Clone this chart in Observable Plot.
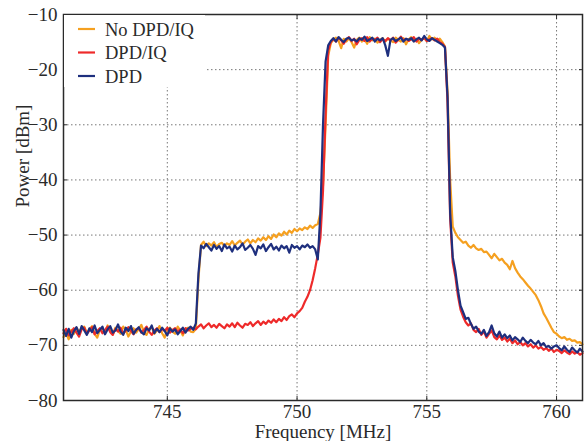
<!DOCTYPE html>
<html>
<head>
<meta charset="utf-8">
<script src="https://cdn.jsdelivr.net/npm/d3@7"></script>
<script src="https://cdn.jsdelivr.net/npm/@observablehq/plot@0.6"></script>
<style>
  html, body { margin: 0; padding: 0; background: #fff; }
  #chart { position: relative; width: 586px; height: 441px; }
</style>
</head>
<body>
<div id="chart"></div>
<script>
// Frequency sweep grid (MHz), 0.1 MHz steps from 741.0 to 761.0
const freqStart = 741.0;
const freqStep = 0.1;

const xTicks = [745, 750, 755, 760];
const yTicks = [-80, -70, -60, -50, -40, -30, -20, -10];

const seriesNames = ["No DPD/IQ", "DPD/IQ", "DPD"];
const seriesColors = ["#f5a020", "#ee2a2a", "#1e2f7e"];

// No DPD/IQ (orange), dBm
const noDpdIq = [
  -68.5, -67.8, -68.9, -67.2, -67.9, -66.8, -67.5, -67.0, -66.6, -67.8,
  -67.1, -66.5, -67.9, -68.6, -67.2, -66.9, -67.6, -66.4, -67.3, -68.0,
  -66.8, -67.4, -67.9, -66.6, -67.2, -68.4, -67.5, -66.9, -67.7, -67.0,
  -66.3, -67.6, -68.1, -67.0, -66.7, -67.9, -67.3, -66.5, -67.8, -68.6,
  -67.1, -66.8, -67.5, -67.9, -66.6, -67.3, -68.2, -67.0, -66.8, -67.5,
  -67.6, -67.0,
  -58.0,
  -51.8, -51.2, -52.0, -51.5, -51.9, -51.3, -52.2, -51.6, -51.4, -52.0,
  -51.5, -51.8, -51.1, -51.9, -51.4, -51.0, -51.7, -51.2, -50.8, -51.5,
  -50.9, -51.3, -50.6, -51.0, -50.4, -50.9, -50.2, -50.7, -49.9, -50.4,
  -49.7, -50.1, -49.4, -49.9, -49.2, -49.6, -48.9, -49.3, -48.8, -49.1,
  -48.6, -48.9, -48.3, -48.7, -48.2,
  -48.0, -46.0, -41.0, -30.0, -17.5,
  -15.2, -14.6, -14.2, -14.8, -16.1, -14.4, -14.9, -14.3, -15.0, -16.0,
  -14.6, -14.2, -14.9, -14.5, -15.3, -14.1, -14.7, -14.4, -15.1, -14.6,
  -14.3, -14.9, -14.4, -14.7, -15.0, -14.2, -14.6, -14.9, -14.3, -15.4,
  -14.5, -14.1, -14.8, -14.4, -15.2, -14.6, -14.3, -14.8, -13.9, -14.5,
  -14.2, -14.7, -14.4, -15.0, -15.8,
  -24.0, -40.0, -48.5,
  -49.6, -50.4, -50.9, -51.4, -51.2, -51.9, -52.3, -51.8, -52.4, -52.7,
  -52.5, -53.1, -53.0, -53.6, -54.2, -53.4, -54.0, -54.6, -54.3, -55.0,
  -55.4, -56.2, -54.7, -56.0, -56.8, -57.5, -58.0, -58.6, -59.2, -59.7,
  -60.3, -60.9, -61.8, -62.9, -64.2, -65.0, -65.9, -66.8, -67.6, -67.9,
  -68.4, -68.7, -68.5, -69.0, -68.8, -69.2, -69.1, -69.5, -69.4, -69.8
];

// DPD/IQ (red), dBm
const dpdIq = [
  -67.8, -67.0, -68.2, -67.5, -66.9, -67.7, -68.4, -67.1, -66.8, -67.9,
  -67.3, -66.7, -68.0, -67.4, -66.9, -67.8, -67.2, -66.6, -67.6, -68.1,
  -67.0, -67.5, -66.8, -67.9, -67.3, -66.7, -67.4, -68.0, -67.1, -66.9,
  -67.7, -67.2, -66.6, -67.5, -68.1, -67.3, -66.9, -67.6, -67.0, -67.4,
  -66.8, -67.7, -67.2, -66.9, -67.5, -67.1, -67.8, -66.9, -67.3, -67.0,
  -66.8, -67.1,
  -66.6, -66.2, -66.9, -66.4, -66.0, -66.7, -66.3, -66.8, -66.1, -66.5,
  -66.9, -66.2, -66.6, -66.0, -66.7, -65.9, -66.4, -66.8, -66.1, -66.3,
  -65.8, -66.5, -66.0, -65.6, -66.3, -65.7, -66.1, -65.5, -65.9, -65.3,
  -65.8, -65.2, -65.6, -64.9, -65.4, -64.7, -64.4, -64.9, -64.2, -63.8,
  -63.2, -62.1, -61.2, -60.0, -58.2, -56.0,
  -53.5, -50.5, -42.0, -28.0, -16.5,
  -15.0, -14.4, -14.9, -14.2, -14.7, -15.3, -14.5, -14.1, -14.8, -14.4,
  -15.4, -14.6, -14.3, -14.8, -14.1, -14.9, -14.4, -14.6, -14.2, -15.0,
  -14.5, -14.8, -14.3, -14.7, -14.2, -15.1, -14.6, -14.0, -14.7, -14.4,
  -14.8, -14.5, -14.1, -14.9, -14.4, -14.6, -14.2, -14.8, -14.5, -14.3,
  -14.7, -14.4, -15.0, -15.3, -15.9,
  -26.0, -47.0, -55.0,
  -57.5, -61.0, -63.5, -64.8, -65.8, -66.4, -66.0, -67.2, -67.6, -67.0,
  -68.1, -67.5, -68.6, -67.9, -67.3, -68.5, -68.9, -68.2, -69.0, -68.6,
  -69.3, -68.8, -69.6, -69.1, -69.8, -69.4, -70.0, -69.6, -70.2, -69.8,
  -70.4, -70.0, -70.6, -70.3, -70.8, -70.5, -71.0, -70.6, -71.2, -70.8,
  -71.0, -71.4, -70.9, -71.3, -71.6, -71.1, -71.5, -71.2, -71.7, -71.4
];

// DPD (navy), dBm
const dpd = [
  -67.2, -68.3, -67.0, -68.6, -67.4, -66.7, -67.9, -66.5, -67.3, -68.1,
  -66.9, -67.6, -66.4, -67.8, -67.2, -66.6, -68.0, -67.1, -66.5, -67.7,
  -67.3, -66.2, -67.5, -68.1, -66.8, -67.4, -66.5, -67.9, -67.2, -66.7,
  -67.6, -68.0, -66.9, -67.3, -66.4, -67.8, -67.0, -67.6, -66.8, -67.4,
  -68.2, -66.9, -67.5, -67.1, -68.0, -67.4, -66.8, -67.7, -67.0, -66.6,
  -67.2, -66.0,
  -57.0,
  -51.9, -52.4, -51.6, -52.2, -52.8, -51.8, -52.5, -52.0, -52.9, -51.7,
  -52.4, -52.1, -53.0, -51.9, -52.6, -52.2, -51.5, -52.7, -52.3, -51.8,
  -52.5, -53.6, -52.0, -52.4, -51.7, -52.9, -52.2, -51.6, -52.6, -52.1,
  -52.8, -51.9, -52.4, -52.0, -53.2, -51.8, -52.3, -52.0, -52.6, -51.9,
  -52.2, -51.7, -52.3, -52.0, -52.6,
  -54.4, -46.0, -30.0, -18.5, -15.6,
  -14.8, -14.3, -14.9, -14.1, -14.6, -15.0, -14.4, -14.2, -14.7, -14.5,
  -14.9, -14.3, -14.6, -14.0, -14.8, -14.5, -14.2, -14.9, -14.4, -14.7,
  -14.3, -15.6, -17.5, -14.6, -14.3, -14.8, -14.5, -14.2, -14.9, -14.4,
  -14.6, -14.3, -14.9, -14.5, -14.2, -14.7, -13.9, -14.5, -14.8, -14.3,
  -14.6, -14.9, -15.2, -15.5, -16.0,
  -25.0, -46.0, -54.0,
  -56.5, -60.0, -62.8, -64.0, -65.2, -65.0, -66.1, -67.0, -66.6, -67.5,
  -67.9, -67.2, -68.3, -67.6, -66.4, -67.8, -68.4, -67.5, -68.6, -68.0,
  -68.7, -68.2, -69.1, -68.5, -68.9, -69.4, -68.6, -69.2, -69.6, -69.0,
  -69.5, -69.8, -69.2, -70.0, -69.6, -70.3, -70.1, -70.6, -70.2, -70.0,
  -70.5, -70.9, -70.2, -70.8, -71.2, -70.4, -70.9, -71.3, -70.6, -71.1
];

const allSeries = [noDpdIq, dpdIq, dpd];
const rows = [];
allSeries.forEach((vals, s) => {
  vals.forEach((v, i) => {
    rows.push({series: seriesNames[s], f: +(freqStart + i * freqStep).toFixed(2), p: v});
  });
});

const serif = "'Liberation Serif', 'Times New Roman', serif";
const ink = "#2a2a2a";

const chart = Plot.plot({
  width: 586,
  height: 441,
  marginLeft: 63,
  marginRight: 4,
  marginTop: 14,
  marginBottom: 41,
  style: {fontFamily: serif, fontSize: "19px", background: "white", color: ink},
  x: {domain: [741, 761], label: null},
  y: {domain: [-80, -10], label: null},
  color: {domain: seriesNames, range: seriesColors},
  marks: [
    Plot.gridX(xTicks, {stroke: "#777", strokeOpacity: 1, strokeDasharray: "1.5,2.5", strokeWidth: 1}),
    Plot.gridY(yTicks, {stroke: "#777", strokeOpacity: 1, strokeDasharray: "1.5,2.5", strokeWidth: 1}),
    Plot.line(rows, {x: "f", y: "p", z: "series", stroke: "series", strokeWidth: 2.2, strokeLinejoin: "round"}),
    Plot.axisX(xTicks, {tickSize: 0, tickPadding: 4, fontSize: 19, fill: ink}),
    Plot.axisY(yTicks, {tickSize: 0, tickPadding: 6, fontSize: 19, fill: ink}),
    Plot.axisY(yTicks, {anchor: "left", tickSize: -4, text: null, stroke: ink}),
    Plot.axisY(yTicks, {anchor: "right", tickSize: -4, text: null, stroke: ink}),
    Plot.axisX(xTicks, {anchor: "bottom", tickSize: -4, text: null, stroke: ink}),
    Plot.axisX(xTicks, {anchor: "top", tickSize: -4, text: null, stroke: ink}),
    Plot.frame({stroke: ink, strokeWidth: 1.5}),
    Plot.text(["Frequency [MHz]"], {frameAnchor: "bottom", lineAnchor: "bottom", dy: 37, fontSize: 19, fill: ink}),
    Plot.text(["Power [dBm]"], {frameAnchor: "left", dx: -41, rotate: -90, fontSize: 19, fill: ink})
  ]
});

document.getElementById("chart").appendChild(chart);

// Legend (inside the plot, top-left, white box)
const svg = d3.select(chart);
const lg = svg.append("g").attr("class", "legend").attr("text-anchor", "start");
lg.append("rect").attr("x", 64).attr("y", 15).attr("width", 141).attr("height", 72).attr("fill", "white");
seriesNames.forEach((name, i) => {
  const y = 29 + i * 23.5;
  lg.append("line").attr("x1", 78).attr("x2", 95).attr("y1", y).attr("y2", y)
    .attr("stroke", seriesColors[i]).attr("stroke-width", 2.2);
  lg.append("text").attr("x", 105).attr("y", y + 6.5).text(name)
    .attr("text-anchor", "start")
    .attr("font-family", serif).attr("font-size", 18.5).attr("fill", ink);
});
</script>
</body>
</html>
